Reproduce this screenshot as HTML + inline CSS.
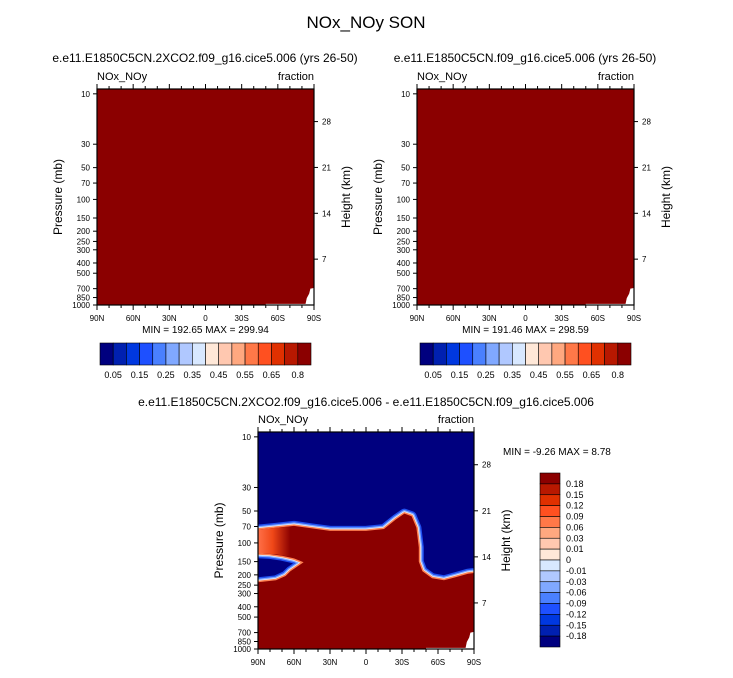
<!DOCTYPE html>
<html><head><meta charset="utf-8">
<style>
body{margin:0;background:#fff;font-family:"Liberation Sans",sans-serif}
svg text{font-family:"Liberation Sans",sans-serif;fill:#000}
</style></head>
<body>
<svg id="s" width="733" height="673" viewBox="0 0 733 673" xmlns="http://www.w3.org/2000/svg">
<defs>
<linearGradient id="band" x1="0" x2="1" y1="0" y2="0">
<stop offset="0" stop-color="#ff7048"/><stop offset="0.45" stop-color="#f04818"/><stop offset="1" stop-color="#8b0000"/>
</linearGradient>
</defs>
<text x="366" y="28" font-size="17" text-anchor="middle">NOx_NOy SON</text>
<text x="205" y="62" font-size="12" text-anchor="middle">e.e11.E1850C5CN.2XCO2.f09_g16.cice5.006 (yrs 26-50)</text>
<text x="525" y="62" font-size="12" text-anchor="middle">e.e11.E1850C5CN.f09_g16.cice5.006 (yrs 26-50)</text>
<text x="366" y="406" font-size="12" text-anchor="middle">e.e11.E1850C5CN.2XCO2.f09_g16.cice5.006 - e.e11.E1850C5CN.f09_g16.cice5.006</text>
<g id="g"></g>
</svg>
<script>
const colors=["#00007f","#0020b0","#0038e0","#1e50ff","#4a80ff","#80a8ff","#b0c8ff","#d8e8ff","#ffe8d8","#ffc8b0","#ffa880","#ff7848","#ff5020","#e03000","#b81800","#8b0000"];
const topLabels=["0.05","0.15","0.25","0.35","0.45","0.55","0.65","0.8"];
const diffLabels=["0.18","0.15","0.12","0.09","0.06","0.03","0.01","0","-0.01","-0.03","-0.06","-0.09","-0.12","-0.15","-0.18"];
const pTicks=[10,30,50,70,100,150,200,250,300,400,500,700,850,1000];
const hTicks=[28,21,14,7];
const latTicks=[90,60,30,0,-30,-60,-90];
const latLabels=["90N","60N","30N","0","30S","60S","90S"];
const panelMin=["192.65","191.46"];
const panelMax=["299.94","298.59"];
const diffMin="-9.26", diffMax="8.78";
const redLat=[90,75,60,45,30,0,-15,-25,-32,-38,-42,-44,-44,-47,-55,-65,-75,-85,-90,-90,90,90,75,67,63,52,60,70,80,90];
const redP=[75,72,69,73,77,77,74,60,53,56,72,110,150,185,215,225,210,195,192,1000,1000,235,225,205,185,152,140,132,127,125];
const bandLat=[90,75,63,63,75,90];
const bandP=[75,72,70,135,128,125];
const NS="http://www.w3.org/2000/svg";
const G=document.getElementById('g');
function el(t,a,p){const e=document.createElementNS(NS,t);for(const k in a)e.setAttribute(k,a[k]);(p||G).appendChild(e);return e;}
function txt(x,y,s,sz,anc,p){const e=el('text',{x:x,y:y,'font-size':sz,'text-anchor':anc||'middle'},p);e.textContent=s;return e;}
const PTOP=9;
function mkAxes(x0,y0,w,h){
  const X=lat=>x0+(90-lat)/180*w;
  const Y=p=>y0+(Math.log10(p)-Math.log10(PTOP))/(3-Math.log10(PTOP))*h;
  return {X,Y};
}
function drawFrame(x0,y0,w,h,ax,name){
  const g=el('g',{});
  
  
  el('rect',{x:x0,y:y0,width:w,height:h,fill:'none',stroke:'#000','stroke-width':1.2},g);
  pTicks.forEach(p=>{const y=ax.Y(p);el('line',{x1:x0-4,x2:x0,y1:y,y2:y,stroke:'#000'},g);
    const t=txt(x0-7,y+3,String(p),8,'end',g);});
  hTicks.forEach(z=>{const p=1000*Math.exp(-z/7);const y=ax.Y(p);el('line',{x1:x0+w,x2:x0+w+4,y1:y,y2:y,stroke:'#000'},g);
    const t=txt(x0+w+8,y+3,String(z),8,'start',g);});
  for(let l=90;l>=-90;l-=10){const x=ax.X(l);const big=l%30==0;
    el('line',{x1:x,x2:x,y1:y0+h,y2:y0+h+(big?5:3),stroke:'#000'},g);
    el('line',{x1:x,x2:x,y1:y0,y2:y0-(big?5:3),stroke:'#000'},g);}
  latTicks.forEach((l,i)=>{const t=txt(ax.X(l),y0+h+16,latLabels[i],8,'middle',g);});
  const yl=txt(0,0,'Pressure (mb)',12,'middle',g);yl.setAttribute('transform',`translate(${x0-35},${y0+h/2}) rotate(-90)`);
  
  const hl=txt(0,0,'Height (km)',12,'middle',g);hl.setAttribute('transform',`translate(${x0+w+36},${y0+h/2}) rotate(-90)`);
  
  const a=txt(x0,y0-9,'NOx_NOy',11,'start',g);
  const b=txt(x0+w,y0-9,'fraction',11,'end',g);
}
function whiteCorner(ax){
  const pts=[[-90,690],[-87,700],[-86,780],[-84,860],[-83,975],[-50,975],[-50,1000],[-90,1000]];
  const poly=el('polygon',{points:pts.map(q=>ax.X(q[0])+','+ax.Y(q[1])).join(' '),fill:'#fff'});
  
  
}
[0,1].forEach(i=>{
  const x0=97+i*320,y0=89,w=217,h=216;const ax=mkAxes(x0,y0,w,h);
  const r=el('rect',{x:x0,y:y0,width:w,height:h,fill:'#8b0000'});
  
  
  whiteCorner(ax);
  drawFrame(x0,y0,w,h,ax,i?'right-panel':'left-panel');
  const m=txt(x0+w/2,y0+h+28,`MIN = ${panelMin[i]}  MAX = ${panelMax[i]}`,10);
  
  
  const cx=x0+3,cw=211/colors.length;
  colors.forEach((c,k)=>{const b=el('rect',{x:cx+k*cw,y:343,width:cw,height:22,fill:c,stroke:'#000','stroke-width':0.6});
    
    });
  topLabels.forEach((s,k)=>{const t=txt(cx+(2*k+1)*cw,378,s,9);
    
    });
});
(function(){
  const x0=258,y0=432,w=216,h=217;const ax=mkAxes(x0,y0,w,h);
  const bg=el('rect',{x:x0,y:y0,width:w,height:h,fill:'#00007f'});
  
  
  const pts=redLat.map((l,i)=>ax.X(l)+','+ax.Y(redP[i])).join(' ');
  const layers=[['#2050f0',10],['#80a8ff',7],['#e8f0ff',4.5],['#ff8050',3]];
  const clip=el('clipPath',{id:'cp'});el('rect',{x:x0,y:y0,width:w,height:h},clip);
  layers.forEach(L=>{const p=el('polygon',{points:pts,fill:'none',stroke:L[0],'stroke-width':L[1],'stroke-linejoin':'round','clip-path':'url(#cp)'});
    
    });
  const red=el('polygon',{points:pts,fill:'#8b0000','clip-path':'url(#cp)'});
  
  
  const band=el('polygon',{points:bandLat.map((l,i)=>ax.X(l)+','+ax.Y(bandP[i])).join(' '),fill:'url(#band)','clip-path':'url(#cp)'});
  
  
  whiteCorner(ax);
  drawFrame(x0,y0,w,h,ax,'diff-panel');
  const m=txt(503,455,`MIN = ${diffMin}  MAX =  ${diffMax}`,10,'start');
  
  
  const ch=174/colors.length;
  colors.slice().reverse().forEach((c,k)=>{const b=el('rect',{x:540,y:473+k*ch,width:20,height:ch,fill:c,stroke:'#000','stroke-width':0.6});
    
    });
  diffLabels.forEach((s,k)=>{const t=txt(566,473+(k+1)*ch+3,s,9,'start');
    
    });
})();
</script>
</body></html>
